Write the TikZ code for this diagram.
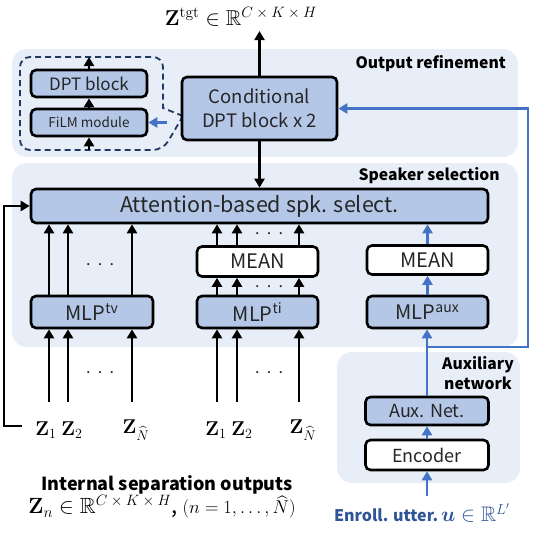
\RequirePackage{fix-cm}
\documentclass[tikz,border=0pt]{standalone}
\usepackage{amsmath,amssymb,bm}
\usepackage[no-math]{fontspec}
\setmainfont{Noto Sans CJK JP}
\usetikzlibrary{arrows.meta}
\definecolor{panelc}{HTML}{E8EEF7}
\definecolor{boxc}{HTML}{B4C7E7}
\definecolor{bluec}{HTML}{4472C4}
\definecolor{enrc}{HTML}{2F5597}
\definecolor{dashc}{HTML}{203864}
\definecolor{txtc}{HTML}{262626}
\newcommand\supsz[2]{\mbox{\fontsize{#1}{#1}\selectfont$#2$}}
\begin{document}
\begin{tikzpicture}[x=1pt,y=-1pt,
  panel/.style={fill=panelc, draw=none, rounded corners=15pt},
  blk/.style={draw=black, line width=2.6pt, rounded corners=5pt, fill=boxc, inner sep=0pt, text=txtc, font=\fontsize{20}{24}\selectfont},
  wblk/.style={blk, fill=white},
  arr/.style={line width=2.6pt, -{Triangle[length=9pt,width=10pt]}},
  barr/.style={arr, draw=bluec},
  head/.style={font=\bfseries\fontsize{15.7}{20}\selectfont, text=black, inner sep=0pt},
  mathlbl/.style={font=\fontsize{20}{22}\selectfont, inner sep=0pt},
  dotsn/.style={font=\fontsize{16}{18}\selectfont, inner sep=0pt, text=txtc}
]
\useasboundingbox (0,0) rectangle (540,538);
% panels
\fill[panel] (12,49) rectangle (518,157);
\fill[panel] (12,163) rectangle (518,347);
\fill[panel] (337,352) rectangle (520,483);
% panel titles
\node[head, anchor=east] (toutref) at (506,64) {Output refinement};
\node[head, anchor=east] (tspk) at (500,176) {Speaker selection};
\node[head, align=center] (taux) at (478,373) {Auxiliary\\network};
% output refinement
\draw[dashc, line width=1.8pt, dash pattern=on 6pt off 4pt] (183,116) -- (163,108) [rounded corners=10pt] -- (163,57) -- (20,57) -- (20,150) -- (163,150) [sharp corners] -- cycle;
\node[blk, minimum width=116pt, minimum height=27pt, font=\fontsize{17}{20}\selectfont] (dpt) at (89,83.5) {DPT block};
\node[blk, minimum width=116pt, minimum height=27pt, font=\fontsize{13.5}{16}\selectfont] (film) at (89,122.5) {FiLM module};
\node[blk, minimum width=155pt, minimum height=63pt, align=center, font=\fontsize{18.5}{24}\selectfont] (cond) at (259.5,108.5) {Conditional\\DPT block x 2};
\coordinate (zb) at (89,150);
\coordinate (zt) at (89,57);
\draw[arr] (zb) -- (film.south);
\draw[arr] (film.north) -- (dpt.south);
\draw[arr] (dpt.north) -- (zt);
\coordinate (filmin) at (167,122.5);
\draw[barr] (filmin) -- (film.east);
\node[mathlbl, font=\fontsize{21.5}{24}\selectfont] (ztgt) at (241,17) {$\mathbf{Z}^{\supsz{15.5}{\mathrm{tgt}}}\in\mathbb{R}^{\supsz{15}{C\times K\times H}}$};
\coordinate (outtop) at (259.5,31);
\draw[arr] (cond.north) -- (cond.north |- outtop);
% speaker selection
\node[blk, minimum width=457pt, minimum height=34pt, font=\fontsize{21.5}{24}\selectfont] (attn) at (259.5,206) {Attention-based spk. select.};
\draw[arr] (cond.south) -- (cond.south |- attn.north);
\node[blk, minimum width=122pt, minimum height=32pt] (mlptv) at (92,312) {MLP\textsuperscript{tv}};
\node[blk, minimum width=121pt, minimum height=32pt] (mlpti) at (257.5,312) {MLP\textsuperscript{ti}};
\node[wblk, minimum width=121pt, minimum height=30pt] (meanti) at (257.5,261.5) {MEAN};
\node[blk, minimum width=121pt, minimum height=32pt] (mlpaux) at (427.5,312) {MLP\textsuperscript{aux}};
\node[wblk, minimum width=121pt, minimum height=29pt] (meanaux) at (427.5,260) {MEAN};
% aux network
\node[blk, minimum width=123pt, minimum height=28pt, font=\fontsize{18}{22}\selectfont] (auxnet) at (427,411) {Aux. Net.};
\node[wblk, minimum width=123pt, minimum height=30pt, font=\fontsize{18}{22}\selectfont] (enc) at (427,455) {Encoder};
\node[text=enrc, inner sep=0pt] (enroll) at (422,513) {{\bfseries\fontsize{16}{20}\selectfont Enroll. utter.} {\fontsize{21}{24}\selectfont$\boldsymbol{u}\in\mathbb{R}^{L'}$}};
% columns
\coordinate (a1) at (49,402); \coordinate (a2) at (68,402); \coordinate (a3) at (132,402);
\coordinate (b1) at (217,402); \coordinate (b2) at (237,402); \coordinate (b3) at (299,402);
\foreach \c in {a1,a2,a3} {
  \draw[arr] (\c) -- (\c |- mlptv.south);
  \draw[arr] (\c |- mlptv.north) -- (\c |- attn.south);
}
\foreach \c in {b1,b2,b3} {
  \draw[arr] (\c) -- (\c |- mlpti.south);
  \draw[arr] (\c |- mlpti.north) -- (\c |- meanti.south);
  \draw[arr] (\c |- meanti.north) -- (\c |- attn.south);
}
\node[dotsn] (d1) at (100,265) {\makebox[28pt]{.\hfill.\hfill.}};
\node[dotsn] (d2) at (100,373) {\makebox[28pt]{.\hfill.\hfill.}};
\node[dotsn] (d3) at (269,373) {\makebox[28pt]{.\hfill.\hfill.}};
\node[dotsn] (d4) at (269,287) {\makebox[28pt]{.\hfill.\hfill.}};
\node[dotsn] (d5) at (269,234) {\makebox[28pt]{.\hfill.\hfill.}};
% Z labels
\node[mathlbl] (z11) at (46,430) {$\mathbf{Z}_1$};
\node[mathlbl] (z12) at (72,430) {$\mathbf{Z}_2$};
\node[mathlbl] (z1n) at (136,430) {$\mathbf{Z}_{\widehat{N}}$};
\node[mathlbl] (z21) at (216,430) {$\mathbf{Z}_1$};
\node[mathlbl] (z22) at (242,430) {$\mathbf{Z}_2$};
\node[mathlbl] (z2n) at (303,430) {$\mathbf{Z}_{\widehat{N}}$};
% feedback
\coordinate (fb) at (22,426);
\draw[arr] (fb) -- ++(-18,0) |- (attn.west);
% blue connectors
\coordinate (enrtop) at (427,496);
\draw[barr] (enrtop) -- (enc.south);
\draw[barr] (enc.north) -- (auxnet.south);
\draw[barr] (auxnet.north) -- (auxnet.north |- mlpaux.south);
\draw[barr] (mlpaux.north) -- (meanaux.south);
\draw[barr] (meanaux.north) -- (meanaux.north |- attn.south);
\coordinate (br) at (427,347);
\coordinate (brc) at (528,347);
\draw[barr] (br) -- (brc) |- (cond.east);
% bottom caption
\node[font=\bfseries\fontsize{18}{21}\selectfont, inner sep=0pt] (cap1) at (167,485) {Internal separation outputs};
\node[font=\fontsize{22}{24}\selectfont, inner sep=0pt] (cap2) at (162,507) {$\mathbf{Z}_n\in\mathbb{R}^{\supsz{15}{C\times K\times H}}$, {\fontsize{18.5}{20}\selectfont$(n=1,\dots,\widehat{N})$}};
\end{tikzpicture}
\end{document}
